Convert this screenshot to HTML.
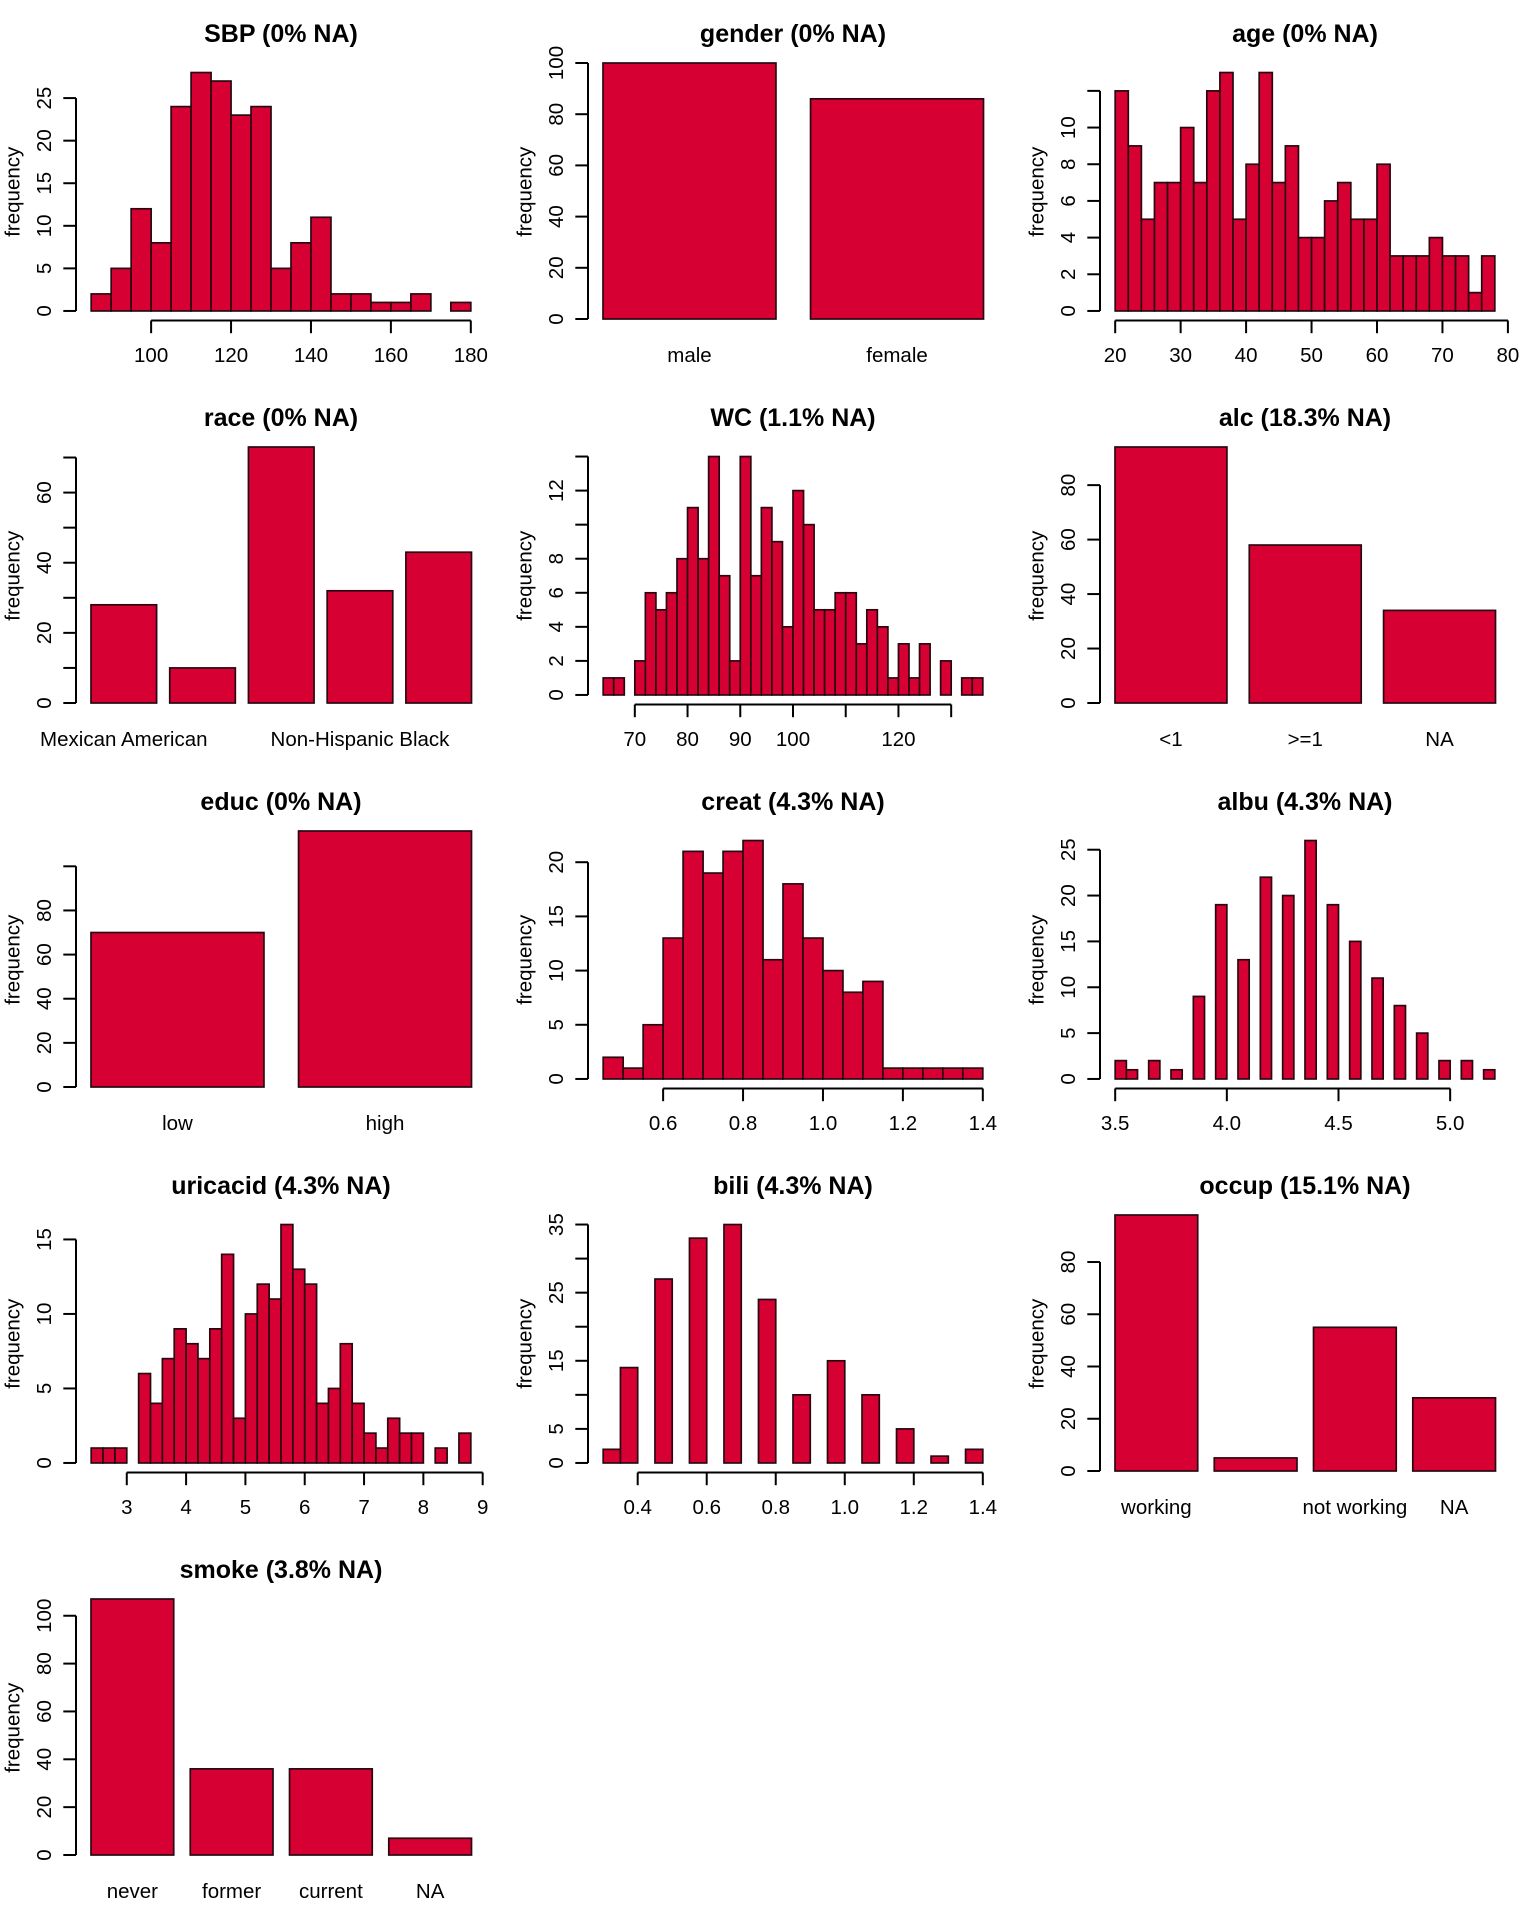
<!DOCTYPE html>
<html><head><meta charset="utf-8">
<style>
html,body{margin:0;padding:0;background:#fff;}
svg text{font-family:"Liberation Sans",Arial,sans-serif;fill:#000;}
</style></head>
<body>
<svg id="chart" xmlns="http://www.w3.org/2000/svg" width="1536" height="1920" viewBox="0 0 1536 1920"></svg>
<script>
// ---- data ----
const sbpCounts = [2,5,12,8,24,28,27,23,24,5,8,11,2,2,1,1,2,0,1];
const sbpBreakStart = 85, sbpBreakWidth = 5;
const sbpXTicks = [100,120,140,160,180];
const sbpYTicks = [0,5,10,15,20,25];
const sbpYLabels = ["0","5","10","15","20","25"];

const genderCats = ["male","female"];
const genderCounts = [100,86];
const genderYTicks = [0,20,40,60,80,100];
const genderYLabels = ["0","20","40","60","80","100"];

const ageCounts = [12,9,5,7,7,10,7,12,13,5,8,13,7,9,4,4,6,7,5,5,8,3,3,3,4,3,3,1,3];
const ageBreakStart = 20, ageBreakWidth = 2;
const ageXTicks = [20,30,40,50,60,70,80];
const ageYTicks = [0,2,4,6,8,10,12];
const ageYLabels = ["0","2","4","6","8","10",""];

const raceCats = ["Mexican American","","","Non-Hispanic Black",""];
const raceCounts = [28,10,73,32,43];
const raceYTicks = [0,10,20,30,40,50,60,70];
const raceYLabels = ["0","","20","","40","","60",""];

const wcCounts = [1,1,0,2,6,5,6,8,11,8,14,7,2,14,7,11,9,4,12,10,5,5,6,6,3,5,4,1,3,1,3,0,2,0,1,1];
const wcBreakStart = 64, wcBreakWidth = 2;
const wcXTicks = [70,80,90,100,110,120,130];
const wcXLabels = ["70","80","90","100","","120",""];
const wcYTicks = [0,2,4,6,8,10,12,14];
const wcYLabels = ["0","2","4","6","8","","12",""];

const alcCats = ["<1",">=1","NA"];
const alcCounts = [94,58,34];
const alcYTicks = [0,20,40,60,80];
const alcYLabels = ["0","20","40","60","80"];

const educCats = ["low","high"];
const educCounts = [70,116];
const educYTicks = [0,20,40,60,80,100];
const educYLabels = ["0","20","40","60","80",""];

const creatCounts = [2,1,5,13,21,19,21,22,11,18,13,10,8,9,1,1,1,1,1];
const creatBreakStart = 0.45, creatBreakWidth = 0.05;
const creatXTicks = [0.6,0.8,1.0,1.2,1.4];
const creatXLabels = ["0.6","0.8","1.0","1.2","1.4"];
const creatYTicks = [0,5,10,15,20];
const creatYLabels = ["0","5","10","15","20"];

const albuCounts = [2,1,0,2,0,1,0,9,0,19,0,13,0,22,0,20,0,26,0,19,0,15,0,11,0,8,0,5,0,2,0,2,0,1];
const albuBreakStart = 3.5, albuBreakWidth = 0.05;
const albuXTicks = [3.5,4.0,4.5,5.0];
const albuXLabels = ["3.5","4.0","4.5","5.0"];
const albuYTicks = [0,5,10,15,20,25];
const albuYLabels = ["0","5","10","15","20","25"];

const uricCounts = [1,1,1,0,6,4,7,9,8,7,9,14,3,10,12,11,16,13,12,4,5,8,4,2,1,3,2,2,0,1,0,2];
const uricBreakStart = 2.4, uricBreakWidth = 0.2;
const uricXTicks = [3,4,5,6,7,8,9];
const uricYTicks = [0,5,10,15];
const uricYLabels = ["0","5","10","15"];

const biliCounts = [2,14,0,27,0,33,0,35,0,24,0,10,0,15,0,10,0,5,0,1,0,2];
const biliBreakStart = 0.3, biliBreakWidth = 0.05;
const biliXTicks = [0.4,0.6,0.8,1.0,1.2,1.4];
const biliXLabels = ["0.4","0.6","0.8","1.0","1.2","1.4"];
const biliYTicks = [0,5,10,15,20,25,30,35];
const biliYLabels = ["0","5","","15","","25","","35"];

const occupCats = ["working","","not working","NA"];
const occupCounts = [98,5,55,28];
const occupYTicks = [0,20,40,60,80];
const occupYLabels = ["0","20","40","60","80"];

const smokeCats = ["never","former","current","NA"];
const smokeCounts = [107,36,36,7];
const smokeYTicks = [0,20,40,60,80,100];
const smokeYLabels = ["0","20","40","60","80","100"];

// ---- drawing ----
const NS = "http://www.w3.org/2000/svg";
const svg = document.getElementById("chart");
const FILL = "#d70033", STROKE = "#2a0710";
const PL = 76, PR = 486, PT = 63, PB = 320.5;
const FS = 20.5;

function mk(tag, attrs, parent) {
  const e = document.createElementNS(NS, tag);
  for (const k in attrs) e.setAttribute(k, attrs[k]);
  parent.appendChild(e);
  return e;
}
function panelGroup(col, row, name) {
  const g = mk("g", {transform: "translate(" + (col*512) + "," + (row*384) + ")"}, svg);
  
  
  return g;
}
function title(g, txt, name) {
  const t = mk("text", {x: (PL+PR)/2, y: 42, "text-anchor": "middle", "font-size": 25, "font-weight": "bold"}, g);
  t.textContent = txt;
  
  
  const yl = mk("text", {transform: "translate(19.5," + ((PT+PB)/2) + ") rotate(-90)", "text-anchor": "middle", "font-size": FS}, g);
  yl.textContent = "frequency";
  
  
}
function yAxis(g, ticks, labels, ys, name) {
  const ax = mk("g", {}, g);
  
  
  mk("line", {x1: PL, x2: PL, y1: ys(ticks[0]), y2: ys(ticks[ticks.length-1]), stroke: "#000", "stroke-width": 2}, ax);
  ticks.forEach((v, i) => {
    const y = ys(v);
    mk("line", {x1: PL-12.7, x2: PL, y1: y, y2: y, stroke: "#000", "stroke-width": 2}, ax);
    if (labels[i]) {
      const t = mk("text", {transform: "translate(51," + y + ") rotate(-90)", "text-anchor": "middle", "font-size": FS}, ax);
      t.textContent = labels[i];
      
      
    }
  });
}
function hist(col, row, name, ttl, counts, start, width, xt, xl, yt, yl) {
  const g = panelGroup(col, row, name);
  title(g, ttl, name);
  const n = counts.length, x0 = start, x1 = start + n*width;
  const ext = (x1-x0)*0.04;
  const xs = v => PL + (v - (x0-ext)) / ((x1+ext) - (x0-ext)) * (PR-PL);
  const maxC = Math.max(...counts), yext = maxC*0.04;
  const ys = v => PB - (v + yext) / (maxC + 2*yext) * (PB-PT);
  counts.forEach((c, i) => {
    const a = xs(start + i*width), b = xs(start + (i+1)*width);
    const r = mk("rect", {x: a, y: ys(c), width: b-a, height: ys(0)-ys(c), fill: FILL, stroke: STROKE, "stroke-width": 1.7}, g);
    
    
  });
  const ax = mk("g", {}, g);
  
  
  mk("line", {x1: xs(xt[0]), x2: xs(xt[xt.length-1]), y1: PB, y2: PB, stroke: "#000", "stroke-width": 2}, ax);
  xt.forEach((v, i) => {
    const x = xs(v);
    mk("line", {x1: x, x2: x, y1: PB, y2: PB+12.7, stroke: "#000", "stroke-width": 2}, ax);
    const lab = xl ? xl[i] : String(v);
    if (lab) {
      const t = mk("text", {x: x, y: 362, "text-anchor": "middle", "font-size": FS}, ax);
      t.textContent = lab;
      
      
    }
  });
  yAxis(g, yt, yl, ys, name);
}
function bars(col, row, name, ttl, cats, counts, yt, yl) {
  const g = panelGroup(col, row, name);
  title(g, ttl, name);
  const n = counts.length;
  const xs = v => 91 + (v - 0.2) / (1.2*n - 0.2) * (471.5 - 91);
  const maxC = Math.max(...counts);
  const ys = v => 319 - v / maxC * (319 - 63);
  counts.forEach((c, i) => {
    const a = xs(0.2 + 1.2*i), b = xs(1.2 + 1.2*i);
    const r = mk("rect", {x: a, y: ys(c), width: b-a, height: ys(0)-ys(c), fill: FILL, stroke: STROKE, "stroke-width": 1.7}, g);
    
    
    if (cats[i]) {
      const t = mk("text", {x: (a+b)/2, y: 362, "text-anchor": "middle", "font-size": FS}, g);
      t.textContent = cats[i];
      
      
    }
  });
  yAxis(g, yt, yl, ys, name);
}

hist(0,0,"sbp","SBP (0% NA)",sbpCounts,sbpBreakStart,sbpBreakWidth,sbpXTicks,null,sbpYTicks,sbpYLabels);
bars(1,0,"gender","gender (0% NA)",genderCats,genderCounts,genderYTicks,genderYLabels);
hist(2,0,"age","age (0% NA)",ageCounts,ageBreakStart,ageBreakWidth,ageXTicks,null,ageYTicks,ageYLabels);
bars(0,1,"race","race (0% NA)",raceCats,raceCounts,raceYTicks,raceYLabels);
hist(1,1,"wc","WC (1.1% NA)",wcCounts,wcBreakStart,wcBreakWidth,wcXTicks,wcXLabels,wcYTicks,wcYLabels);
bars(2,1,"alc","alc (18.3% NA)",alcCats,alcCounts,alcYTicks,alcYLabels);
bars(0,2,"educ","educ (0% NA)",educCats,educCounts,educYTicks,educYLabels);
hist(1,2,"creat","creat (4.3% NA)",creatCounts,creatBreakStart,creatBreakWidth,creatXTicks,creatXLabels,creatYTicks,creatYLabels);
hist(2,2,"albu","albu (4.3% NA)",albuCounts,albuBreakStart,albuBreakWidth,albuXTicks,albuXLabels,albuYTicks,albuYLabels);
hist(0,3,"uricacid","uricacid (4.3% NA)",uricCounts,uricBreakStart,uricBreakWidth,uricXTicks,null,uricYTicks,uricYLabels);
hist(1,3,"bili","bili (4.3% NA)",biliCounts,biliBreakStart,biliBreakWidth,biliXTicks,biliXLabels,biliYTicks,biliYLabels);
bars(2,3,"occup","occup (15.1% NA)",occupCats,occupCounts,occupYTicks,occupYLabels);
bars(0,4,"smoke","smoke (3.8% NA)",smokeCats,smokeCounts,smokeYTicks,smokeYLabels);
</script>
</body></html>
